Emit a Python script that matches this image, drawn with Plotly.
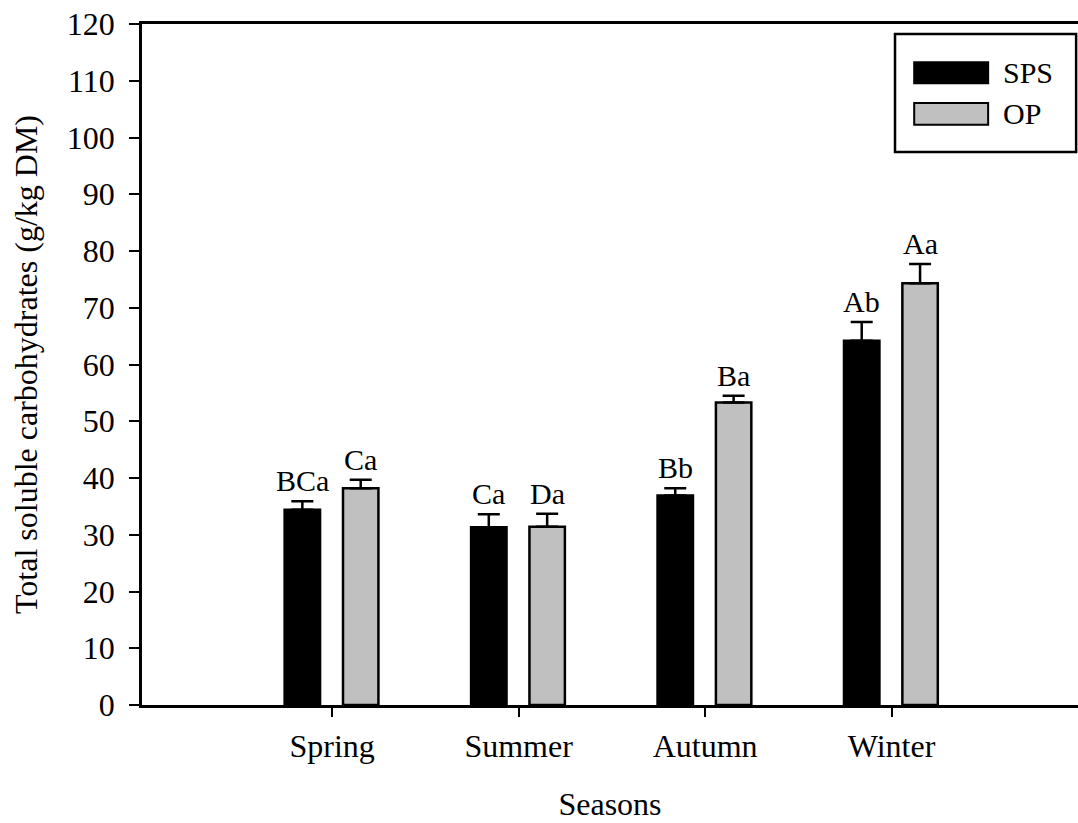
import plotly.graph_objects as go

seasons = ["Spring", "Summer", "Autumn", "Winter"]
sps_values = [34.4, 31.3, 36.9, 64.2]
sps_errors = [1.5, 2.3, 1.3, 3.3]
op_values = [38.2, 31.4, 53.3, 74.3]
op_errors = [1.5, 2.3, 1.2, 3.4]
sps_letters = ["BCa", "Ca", "Bb", "Ab"]
op_letters = ["Ca", "Da", "Ba", "Aa"]

FONT = "Liberation Serif"
FS = 32
BAR_W = 0.19
SPS_OFF = -0.255
OP_OFF = 0.058

err_style = dict(type="data", symmetric=False, color="black", thickness=2.5, width=11)

fig = go.Figure()
fig.add_trace(go.Bar(
    x=seasons, y=sps_values, name="SPS", width=BAR_W, offset=SPS_OFF,
    marker=dict(color="black", line=dict(color="black", width=2.5)),
    error_y=dict(array=sps_errors, arrayminus=[0] * len(seasons), **err_style),
    showlegend=False,
))
fig.add_trace(go.Bar(
    x=seasons, y=op_values, name="OP", width=BAR_W, offset=OP_OFF,
    marker=dict(color="#c0c0c0", line=dict(color="black", width=2.5)),
    error_y=dict(array=op_errors, arrayminus=[0] * len(seasons), **err_style),
    showlegend=False,
))

annotations = []
for i in range(len(seasons)):
    annotations.append(dict(x=i + SPS_OFF + BAR_W / 2, y=sps_values[i] + sps_errors[i],
                            text=sps_letters[i], showarrow=False, yanchor="bottom", yshift=2,
                            font=dict(family=FONT, size=30, color="black")))
    annotations.append(dict(x=i + OP_OFF + BAR_W / 2, y=op_values[i] + op_errors[i],
                            text=op_letters[i], showarrow=False, yanchor="bottom", yshift=2,
                            font=dict(family=FONT, size=30, color="black")))

# legend box drawn in paper coordinates
shapes = [
    dict(type="rect", xref="paper", yref="paper", x0=0.8045, x1=0.998, y0=0.812, y1=0.9853,
         line=dict(color="black", width=2.5), fillcolor="white", layer="above"),
    dict(type="rect", xref="paper", yref="paper", x0=0.825, x1=0.904, y0=0.913, y1=0.944,
         line=dict(color="black", width=2), fillcolor="black", layer="above"),
    dict(type="rect", xref="paper", yref="paper", x0=0.825, x1=0.904, y0=0.852, y1=0.884,
         line=dict(color="black", width=2), fillcolor="#c0c0c0", layer="above"),
]
annotations.append(dict(xref="paper", yref="paper", x=0.918, y=0.929, text="SPS", showarrow=False,
                        xanchor="left", yanchor="middle", font=dict(family=FONT, size=30, color="black")))
annotations.append(dict(xref="paper", yref="paper", x=0.918, y=0.869, text="OP", showarrow=False,
                        xanchor="left", yanchor="middle", font=dict(family=FONT, size=30, color="black")))

fig.update_layout(
    width=1078, height=823,
    margin=dict(l=142, r=0, t=24, b=118),
    paper_bgcolor="white", plot_bgcolor="white",
    font=dict(family=FONT, size=FS, color="black"),
    annotations=annotations,
    shapes=shapes,
    xaxis=dict(
        range=[-1.02, 4.0], showgrid=False, zeroline=False,
        showline=True, linecolor="black", linewidth=2.5, mirror=True,
        ticks="outside", ticklen=9, tickwidth=2, tickcolor="black",
        tickfont=dict(family=FONT, size=FS), ticklabelstandoff=2,
        title=dict(text="Seasons", font=dict(family=FONT, size=FS), standoff=30),
    ),
    yaxis=dict(
        range=[0, 120], dtick=10, showgrid=False, zeroline=False,
        showline=True, linecolor="black", linewidth=2.5,
        ticks="outside", ticklen=10, tickwidth=2, tickcolor="black",
        tickfont=dict(family=FONT, size=FS), ticklabelstandoff=8,
        title=dict(text="Total soluble carbohydrates (g/kg DM)", font=dict(family=FONT, size=FS), standoff=20),
    ),
)

fig.write_html("out.html", config={"displayModeBar": False},
               post_script="document.body.style.margin='0px';document.body.style.overflow='hidden';")
